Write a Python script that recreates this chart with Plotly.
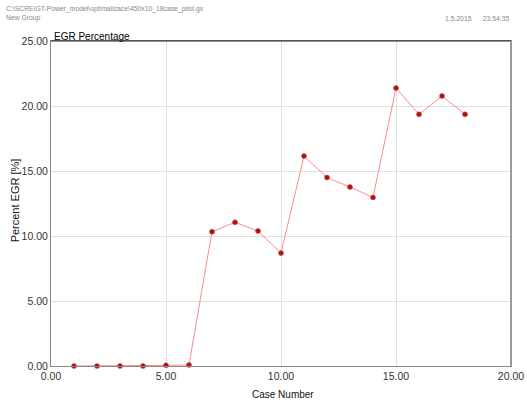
import plotly.graph_objects as go

cases = [1, 2, 3, 4, 5, 6, 7, 8, 9, 10, 11, 12, 13, 14, 15, 16, 17, 18]
egr = [0.0, 0.0, 0.0, 0.0, 0.05, 0.08, 10.33, 11.05, 10.38, 8.69, 16.15, 14.5, 13.77, 12.97, 21.38, 19.36, 20.77, 19.36]
x_ticks = [0, 5, 10, 15, 20]
y_ticks = [0, 5, 10, 15, 20, 25]

FONT = "Liberation Sans, Arial"

fig = go.Figure()
fig.add_trace(go.Scatter(
    x=cases, y=egr, mode="lines+markers",
    line=dict(color="#ff8a8a", width=1),
    marker=dict(color="#d40000", size=5, line=dict(color="#777777", width=0.6)),
    showlegend=False, cliponaxis=False,
))

axis_common = dict(
    showgrid=True, gridcolor="#e0e0e0", gridwidth=1, automargin=False,
    showline=True, linecolor="#888888", linewidth=1, mirror=True,
    zeroline=False, ticks="", tickfont=dict(family=FONT, size=10.5, color="#333333"),
)

fig.update_xaxes(range=[0, 20], tickvals=x_ticks, ticktext=[f"{v:.2f}" for v in x_ticks], **axis_common)
fig.update_yaxes(range=[0, 25], tickvals=y_ticks, ticktext=[f"{v:.2f}" for v in y_ticks], **axis_common)

fig.add_shape(type="line", xref="paper", yref="paper", x0=0, x1=1, y0=1, y1=1,
              line=dict(color="#222222", width=1))
fig.add_shape(type="line", xref="paper", yref="paper", x0=1, x1=1, y0=0, y1=1,
              line=dict(color="#999999", width=2))

fig.add_annotation(text="Percent EGR [%]", xref="paper", yref="paper", x=-0.078, y=0.51,
                   textangle=-90, xanchor="center", yanchor="middle", showarrow=False,
                   font=dict(family=FONT, size=11, color="#111111"))
fig.add_annotation(text="Case Number", xref="paper", yref="paper", x=0.504, y=0.0, yshift=-28,
                   xanchor="center", yanchor="middle", showarrow=False,
                   font=dict(family=FONT, size=10, color="#111111"))
fig.add_annotation(text="EGR Percentage", xref="paper", yref="paper", x=0.002, y=1.0,
                   xanchor="left", yanchor="bottom", showarrow=False, yshift=-3,
                   font=dict(family=FONT, size=10, color="#000000"))
fig.add_annotation(text="C:\\SCREIGT-Power_model\\optimalizace\\450x10_18case_pilot.gx",
                   xref="paper", yref="paper", x=-0.102, y=1.0, yshift=26,
                   xanchor="left", yanchor="bottom", showarrow=False,
                   font=dict(family=FONT, size=6.8, color="#888888"))
fig.add_annotation(text="New Group", xref="paper", yref="paper", x=-0.102, y=1.0, yshift=17,
                   xanchor="left", yanchor="bottom", showarrow=False,
                   font=dict(family=FONT, size=6.8, color="#888888"))
fig.add_annotation(text="1.5.2015&nbsp;&nbsp;&nbsp;&nbsp;&nbsp;&nbsp;23:54:35", xref="paper", yref="paper",
                   x=1.0, y=1.0, yshift=17,
                   xanchor="right", yanchor="bottom", showarrow=False,
                   font=dict(family=FONT, size=6.8, color="#888888"))

fig.update_layout(
    width=527, height=403,
    margin=dict(l=51, r=16, t=41, b=37),
    plot_bgcolor="white", paper_bgcolor="white",
)
fig.write_html("out.html", config={"displayModeBar": False},
               post_script="document.body.style.margin='0';document.body.style.overflow='hidden';")
